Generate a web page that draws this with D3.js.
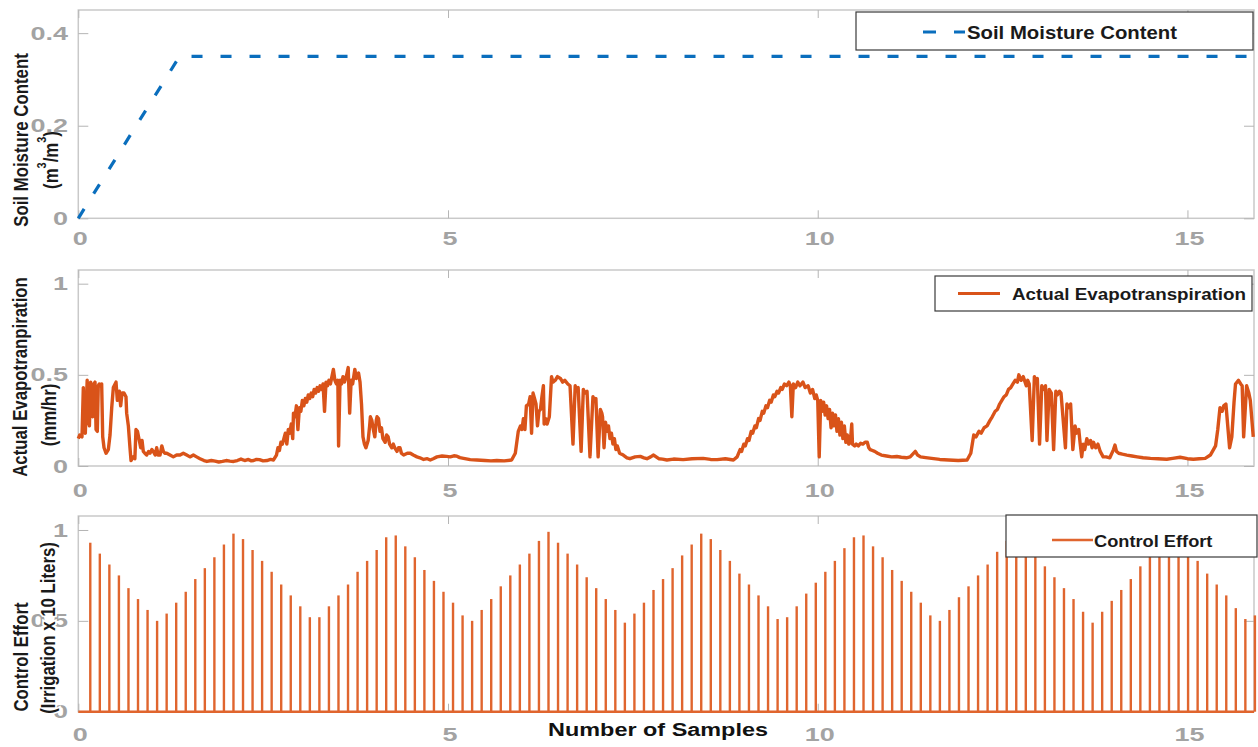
<!DOCTYPE html>
<html>
<head>
<meta charset="utf-8">
<script src="https://cdn.jsdelivr.net/npm/d3@7"></script>
<style>
  body { margin: 0; background: #fff; }
  text { font-family: "Liberation Sans", Arial, sans-serif; font-weight: bold; }
</style>
</head>
<body>
<svg id="chart" width="1258" height="747"></svg>
<script>
// ---- data ----
// soil moisture content, [day, m3/m3]
const soilMoisture = [[0, 0], [1.37, 0.35], [15.9, 0.35]];

// actual evapotranspiration, [day, mm/hr]
const evapotranspiration = [
  [0,0.15],[0.02,0.17],[0.05,0.16],[0.068,0.43],[0.08,0.2],[0.095,0.18],[0.12,0.47],[0.135,0.25],[0.15,0.22],
  [0.167,0.46],[0.18,0.3],[0.194,0.27],[0.21,0.45],[0.226,0.46],[0.24,0.2],[0.257,0.19],[0.27,0.44],[0.284,0.45],
  [0.3,0.44],[0.316,0.45],[0.33,0.16],[0.348,0.1],[0.375,0.07],[0.406,0.09],[0.429,0.17],[0.452,0.32],[0.474,0.43],
  [0.51,0.46],[0.528,0.36],[0.555,0.41],[0.573,0.33],[0.591,0.4],[0.618,0.4],[0.645,0.38],[0.654,0.29],[0.677,0.22],
  [0.699,0.1],[0.713,0.03],[0.744,0.05],[0.765,0.04],[0.78,0.2],[0.8,0.19],[0.825,0.14],[0.844,0.1],[0.862,0.14],
  [0.879,0.08],[0.9,0.07],[0.925,0.06],[0.95,0.08],[0.97,0.07],[0.995,0.09],[1.014,0.08],[1.04,0.06],[1.06,0.1],
  [1.08,0.06],[1.105,0.06],[1.13,0.11],[1.15,0.08],[1.17,0.07],[1.196,0.07],[1.24,0.06],[1.285,0.05],[1.33,0.06],
  [1.376,0.06],[1.42,0.07],[1.466,0.06],[1.51,0.05],[1.556,0.06],[1.6,0.05],[1.646,0.04],[1.7,0.03],[1.74,0.025],
  [1.8,0.03],[1.85,0.027],[1.9,0.022],[1.95,0.025],[2.0,0.03],[2.05,0.027],[2.1,0.025],[2.15,0.03],[2.2,0.038],
  [2.25,0.03],[2.3,0.036],[2.34,0.028],[2.37,0.03],[2.41,0.036],[2.45,0.035],[2.5,0.028],[2.55,0.03],[2.6,0.036],
  [2.64,0.033],
  [2.68,0.06],[2.7,0.1],[2.72,0.085],[2.74,0.13],[2.76,0.12],[2.78,0.15],[2.8,0.18],[2.82,0.12],[2.84,0.2],
  [2.86,0.18],[2.88,0.23],[2.9,0.15],[2.91,0.29],[2.93,0.27],[2.95,0.33],[2.97,0.2],[2.99,0.32],[3.01,0.3],
  [3.03,0.36],[3.05,0.33],[3.07,0.37],[3.09,0.35],[3.11,0.39],[3.13,0.37],[3.15,0.4],[3.17,0.38],[3.19,0.42],
  [3.21,0.4],[3.23,0.43],[3.25,0.41],[3.27,0.44],[3.29,0.42],[3.31,0.45],[3.33,0.3],[3.35,0.46],[3.37,0.44],
  [3.39,0.47],[3.41,0.45],[3.43,0.49],[3.45,0.53],[3.47,0.47],[3.49,0.45],[3.51,0.47],[3.52,0.11],[3.54,0.47],
  [3.56,0.45],[3.58,0.49],[3.6,0.46],[3.63,0.5],[3.65,0.54],[3.67,0.29],[3.69,0.47],[3.71,0.45],[3.74,0.53],
  [3.76,0.48],[3.79,0.51],[3.81,0.46],[3.83,0.34],[3.85,0.16],[3.87,0.12],[3.89,0.1],[3.92,0.14],[3.94,0.22],
  [3.95,0.27],[3.97,0.25],[3.99,0.2],[4.01,0.16],[4.03,0.25],[4.04,0.27],[4.06,0.26],[4.08,0.19],[4.1,0.21],
  [4.12,0.15],[4.15,0.13],[4.17,0.17],[4.19,0.16],[4.21,0.12],[4.24,0.1],[4.26,0.12],[4.28,0.1],[4.31,0.08],
  [4.33,0.1],[4.35,0.1],[4.37,0.07],[4.4,0.06],[4.45,0.07],[4.49,0.07],[4.53,0.06],[4.58,0.05],[4.62,0.045],
  [4.67,0.036],[4.72,0.04],[4.76,0.033],[4.8,0.04],[4.85,0.05],[4.92,0.055],[4.98,0.053],[5.03,0.05],[5.08,0.056],
  [5.12,0.054],[5.16,0.046],[5.21,0.042],[5.3,0.035],[5.39,0.033],[5.5,0.03],[5.58,0.028],[5.66,0.03],[5.76,0.028],
  [5.86,0.033],
  [5.91,0.07],[5.95,0.19],[5.98,0.22],[6.0,0.2],[6.02,0.26],[6.04,0.2],[6.06,0.33],[6.09,0.34],[6.11,0.38],
  [6.13,0.18],[6.15,0.4],[6.17,0.37],[6.19,0.34],[6.21,0.22],[6.23,0.3],[6.25,0.31],[6.27,0.38],[6.29,0.44],
  [6.3,0.23],[6.32,0.26],[6.34,0.23],[6.37,0.27],[6.4,0.49],[6.42,0.46],[6.45,0.47],[6.48,0.49],[6.52,0.48],
  [6.55,0.46],[6.58,0.47],[6.62,0.45],[6.65,0.44],[6.69,0.12],[6.72,0.44],[6.74,0.42],[6.76,0.43],[6.8,0.08],
  [6.83,0.42],[6.85,0.4],[6.88,0.41],[6.92,0.05],[6.96,0.38],[6.98,0.36],[7.0,0.37],[7.03,0.05],[7.06,0.31],
  [7.08,0.29],[7.09,0.27],[7.11,0.1],[7.13,0.24],[7.15,0.19],[7.17,0.22],[7.19,0.15],[7.21,0.18],[7.23,0.12],
  [7.25,0.15],[7.27,0.09],[7.29,0.11],[7.32,0.07],[7.37,0.06],[7.42,0.045],[7.46,0.04],[7.53,0.05],[7.6,0.053],
  [7.65,0.045],[7.69,0.04],[7.74,0.05],[7.78,0.06],[7.85,0.04],[7.9,0.038],[7.96,0.033],[8.05,0.038],[8.18,0.035],
  [8.3,0.04],[8.45,0.042],[8.55,0.036],[8.64,0.035],[8.75,0.04],[8.86,0.033],
  [8.91,0.05],[8.95,0.09],[8.97,0.08],[9.0,0.12],[9.02,0.11],[9.05,0.15],[9.07,0.14],[9.1,0.19],[9.12,0.18],
  [9.15,0.22],[9.17,0.21],[9.2,0.26],[9.22,0.25],[9.25,0.3],[9.27,0.29],[9.3,0.33],[9.32,0.32],[9.35,0.36],
  [9.37,0.35],[9.4,0.39],[9.42,0.38],[9.45,0.41],[9.47,0.4],[9.5,0.43],[9.52,0.42],[9.55,0.45],[9.58,0.44],
  [9.61,0.46],[9.63,0.44],[9.65,0.27],[9.67,0.45],[9.7,0.43],[9.73,0.46],[9.76,0.44],[9.8,0.46],[9.83,0.43],
  [9.87,0.44],[9.9,0.4],[9.93,0.42],[9.96,0.37],[9.98,0.39],[10.0,0.36],[10.02,0.05],[10.04,0.36],[10.06,0.3],
  [10.08,0.35],[10.1,0.28],[10.12,0.33],[10.14,0.26],[10.16,0.31],[10.18,0.21],[10.2,0.29],[10.22,0.22],
  [10.24,0.28],[10.26,0.19],[10.28,0.26],[10.3,0.17],[10.32,0.24],[10.34,0.15],[10.36,0.22],[10.38,0.13],
  [10.4,0.17],[10.42,0.12],[10.44,0.13],[10.46,0.23],[10.47,0.12],[10.5,0.11],[10.52,0.12],[10.55,0.11],
  [10.58,0.125],[10.61,0.12],[10.64,0.13],[10.67,0.13],[10.69,0.1],[10.71,0.09],[10.74,0.085],[10.77,0.08],
  [10.81,0.07],[10.86,0.06],[10.93,0.055],[11.0,0.05],[11.07,0.052],[11.13,0.048],[11.2,0.045],[11.25,0.05],
  [11.32,0.08],[11.35,0.06],[11.39,0.05],[11.46,0.046],[11.54,0.042],[11.65,0.036],[11.77,0.033],[11.9,0.03],
  [12.02,0.033],
  [12.07,0.07],[12.11,0.17],[12.14,0.16],[12.18,0.19],[12.21,0.18],[12.25,0.21],[12.29,0.22],[12.33,0.25],
  [12.36,0.27],[12.4,0.3],[12.43,0.31],[12.46,0.34],[12.49,0.36],[12.52,0.38],[12.55,0.39],[12.58,0.42],
  [12.61,0.43],[12.64,0.45],[12.67,0.47],[12.7,0.46],[12.72,0.5],[12.75,0.47],[12.78,0.49],[12.82,0.44],
  [12.84,0.47],[12.86,0.45],[12.9,0.14],[12.93,0.49],[12.95,0.46],[12.97,0.48],[13.0,0.12],[13.03,0.44],
  [13.05,0.42],[13.08,0.44],[13.1,0.14],[13.13,0.42],[13.16,0.4],[13.19,0.09],[13.22,0.41],[13.24,0.39],
  [13.27,0.41],[13.29,0.4],[13.35,0.1],[13.37,0.34],[13.39,0.32],[13.42,0.34],[13.45,0.09],[13.48,0.22],
  [13.5,0.18],[13.53,0.2],[13.55,0.12],[13.57,0.05],[13.59,0.12],[13.61,0.09],[13.64,0.15],[13.66,0.12],
  [13.69,0.14],[13.71,0.1],[13.73,0.13],[13.76,0.1],[13.79,0.12],[13.82,0.08],[13.86,0.05],[13.9,0.05],
  [13.95,0.045],[14.0,0.09],[14.02,0.115],[14.04,0.08],[14.07,0.07],[14.12,0.065],[14.18,0.06],[14.25,0.055],
  [14.32,0.05],[14.4,0.045],[14.5,0.042],[14.6,0.04],[14.72,0.037],[14.8,0.042],[14.9,0.048],[15.0,0.04],
  [15.08,0.037],[15.16,0.04],[15.24,0.042],[15.31,0.06],[15.38,0.11],[15.41,0.2],[15.44,0.32],[15.47,0.3],
  [15.49,0.33],[15.52,0.34],[15.57,0.1],[15.6,0.16],[15.63,0.35],[15.65,0.45],[15.69,0.47],[15.72,0.45],
  [15.74,0.44],[15.76,0.16],[15.78,0.3],[15.8,0.44],[15.83,0.4],[15.85,0.36],[15.89,0.16]
];

// irrigation per control step (x10 liters)
const controlEffort = [
  0.93,0.87,0.81,0.75,0.68,0.62,0.56,0.50,0.54,0.60,0.66,0.73,0.79,0.85,0.92,0.98,0.95,0.89,0.83,0.77,
  0.70,0.64,0.58,0.52,0.52,0.58,0.64,0.70,0.77,0.83,0.89,0.96,0.97,0.91,0.85,0.78,0.72,0.66,0.60,0.53,
  0.50,0.56,0.62,0.69,0.75,0.81,0.87,0.94,0.99,0.93,0.87,0.81,0.74,0.68,0.62,0.56,0.49,0.54,0.60,0.67,
  0.73,0.79,0.86,0.92,0.98,0.95,0.89,0.83,0.76,0.70,0.64,0.58,0.51,0.52,0.58,0.65,0.71,0.77,0.83,0.90,
  0.96,0.97,0.91,0.85,0.78,0.72,0.66,0.60,0.53,0.50,0.56,0.63,0.69,0.75,0.81,0.88,0.94,0.99,0.93,0.87,
  0.80,0.74,0.68,0.62,0.55,0.49,0.55,0.61,0.67,0.73,0.80,0.86,0.92,0.98,0.96,0.90,0.83,0.76,0.70,0.64,
  0.57,0.51,0.53
];
const controlStart = 0.162;   // day of the first control step
const controlStep = 0.1291;   // days between control steps

const xTicks = [0, 5, 10, 15];
const soilTicks = [0, 0.2, 0.4];
const unitTicks = [0, 0.5, 1];

// ---- layout ----
const svg = d3.select("#chart");
svg.append("rect").attr("width", 1258).attr("height", 747).attr("fill", "#fff");

const left = 78.3, right = 1254;
const x = d3.scaleLinear().domain([0, 15.9]).range([left, right]);

const panels = [
  { top: 10,  bottom: 218.3, ymax: 0.45,  ticks: soilTicks, fmt: d => d === 0 ? "0" : d3.format(".1f")(d), xLabelBase: 245 },
  { top: 270, bottom: 466,   ymax: 1.075, ticks: unitTicks, fmt: d => String(d),                         xLabelBase: 497 },
  { top: 516, bottom: 711.7, ymax: 1.077, ticks: unitTicks, fmt: d => String(d),                         xLabelBase: 741 }
];
panels.forEach(p => { p.y = d3.scaleLinear().domain([0, p.ymax]).range([p.bottom, p.top]); });

const GRAY = "#a3a3a3";
const BOX = "#c9c9c9";
const BLUE = "#0a6ebd";
const ORANGE = "#d95319";
const STEM = "#e0652e";

// text drawn with a horizontal stretch about its anchor point
function stretchedText(parent, str, tx, ty, opts) {
  const g = parent.append("g")
    .attr("transform", `translate(${tx},${ty}) scale(${opts.sx || 1},1)` + (opts.rotate ? " rotate(-90)" : ""));
  const t = g.append("text")
    .attr("text-anchor", opts.anchor || "middle")
    .attr("font-size", opts.size)
    .attr("fill", opts.fill || "#111");
  if (opts.baseline) t.attr("dominant-baseline", opts.baseline);
  t.text(str);
  return t;
}

panels.forEach((p, i) => {
  const g = svg.append("g");
  // axes box
  g.append("rect").attr("x", left).attr("y", p.top)
    .attr("width", right - left).attr("height", p.bottom - p.top)
    .attr("fill", "none").attr("stroke", BOX).attr("stroke-width", 1.5);

  // y axis (inward ticks, mirrored on the right)
  const yAxisL = d3.axisRight(p.y).tickValues(p.ticks).tickSize(10).tickFormat("");
  const yAxisR = d3.axisLeft(p.y).tickValues(p.ticks).tickSize(10).tickFormat("");
  g.append("g").attr("transform", `translate(${left},0)`).call(yAxisL);
  g.append("g").attr("transform", `translate(${right},0)`).call(yAxisR);
  // x axis (inward ticks, top and bottom)
  const xAxisB = d3.axisTop(x).tickValues(xTicks).tickSize(8).tickFormat("");
  const xAxisT = d3.axisBottom(x).tickValues(xTicks).tickSize(8).tickFormat("");
  g.append("g").attr("transform", `translate(0,${p.bottom})`).call(xAxisB);
  g.append("g").attr("transform", `translate(0,${p.top})`).call(xAxisT);
  g.selectAll(".domain").remove();
  g.selectAll(".tick line").attr("stroke", "#b5b5b5").attr("stroke-width", 1);

  // tick labels
  p.ticks.forEach(v => {
    stretchedText(g, p.fmt(v), 68, p.y(v), { size: 19, sx: 1.42, anchor: "end", fill: GRAY, baseline: "central" });
  });
  xTicks.forEach(v => {
    stretchedText(g, String(v), x(v) + 2, p.xLabelBase, { size: 19, sx: 1.42, anchor: "middle", fill: GRAY });
  });
});

// ---- panel 1: soil moisture ----
const P1 = panels[0];
svg.append("path")
  .datum(soilMoisture)
  .attr("d", d3.line().x(d => x(d[0])).y(d => P1.y(d[1])))
  .attr("fill", "none").attr("stroke", BLUE).attr("stroke-width", 3.2)
  .attr("stroke-dasharray", "11,18");

// ---- panel 2: evapotranspiration ----
const P2 = panels[1];
svg.append("path")
  .datum(evapotranspiration)
  .attr("d", d3.line().x(d => x(d[0])).y(d => P2.y(d[1])))
  .attr("fill", "none").attr("stroke", ORANGE).attr("stroke-width", 3.4)
  .attr("stroke-linejoin", "round");

// ---- panel 3: control effort stems ----
const P3 = panels[2];
const stems = controlEffort.map((v, i) => ({ t: controlStart + i * controlStep, v }));
svg.append("g").selectAll("line").data(stems).join("line")
  .attr("x1", d => x(d.t)).attr("x2", d => x(d.t))
  .attr("y1", P3.y(0)).attr("y2", d => P3.y(d.v))
  .attr("stroke", STEM).attr("stroke-width", 2.4);
svg.append("line")
  .attr("x1", left).attr("x2", right).attr("y1", P3.y(0)).attr("y2", P3.y(0))
  .attr("stroke", STEM).attr("stroke-width", 2.4);

// ---- legends ----
function legend(box, sample, label) {
  const g = svg.append("g");
  g.append("rect").attr("x", box[0]).attr("y", box[1]).attr("width", box[2] - box[0]).attr("height", box[3] - box[1])
    .attr("fill", "#fff").attr("stroke", "#3a3a3a").attr("stroke-width", 1.2);
  const ln = g.append("line").attr("x1", sample.x1).attr("x2", sample.x2).attr("y1", sample.y).attr("y2", sample.y)
    .attr("stroke", sample.color).attr("stroke-width", sample.width);
  if (sample.dash) ln.attr("stroke-dasharray", sample.dash);
  stretchedText(g, label.text, label.x, label.y, { size: label.size, sx: label.sx, anchor: "start", baseline: "central", fill: "#1a1a1a" });
}
legend([856, 12, 1253, 50], { x1: 923, x2: 965, y: 32, color: BLUE, width: 3.2, dash: "13,18" },
  { text: "Soil Moisture Content", x: 967, y: 33, size: 18, sx: 1.13 });
legend([935, 276, 1252, 311], { x1: 958, x2: 1000, y: 293.5, color: ORANGE, width: 3.2 },
  { text: "Actual Evapotranspiration", x: 1012, y: 294, size: 16.5, sx: 1.14 });
legend([1006, 515, 1257, 557], { x1: 1052, x2: 1093, y: 540, color: STEM, width: 2.4 },
  { text: "Control Effort", x: 1094, y: 541, size: 16, sx: 1.14 });

// ---- axis titles ----
function yTitle(parts, cx, cy, size, sx, halo) {
  const g = svg.append("g").attr("transform", `translate(${cx},${cy}) scale(${sx},1) rotate(-90)`);
  const t = g.append("text").attr("text-anchor", "middle").attr("dominant-baseline", "central")
    .attr("font-size", size).attr("fill", "#1a1a1a");
  if (halo) t.attr("stroke", "#fff").attr("stroke-width", 3).attr("paint-order", "stroke");
  parts.forEach(pt => {
    const s = t.append("tspan").text(pt.s);
    if (pt.sup) s.attr("font-size", size * 0.65).attr("dy", -size * 0.4);
    if (pt.down) s.attr("dy", size * 0.4);
  });
}
yTitle([{ s: "Soil Moisture Content" }], 20, 140, 16.8, 1.2);
yTitle([{ s: "(m" }, { s: "3", sup: true }, { s: "/m", down: true }, { s: "3", sup: true }, { s: ")", down: true }], 50, 160, 16.8, 1.2);
yTitle([{ s: "Actual  Evapotranpiration" }], 19, 377, 16.8, 1.2);
yTitle([{ s: "(mm/hr)" }], 48, 415, 16.8, 1.2);
yTitle([{ s: "Control Effort" }], 20, 657, 16.8, 1.2);
yTitle([{ s: "(Irrigation x 10 Liters)" }], 47, 628, 16.8, 1.2, true);

stretchedText(svg, "Number of Samples", 658, 736, { size: 18.6, sx: 1.26, anchor: "middle", fill: "#111" });
</script>
</body>
</html>
